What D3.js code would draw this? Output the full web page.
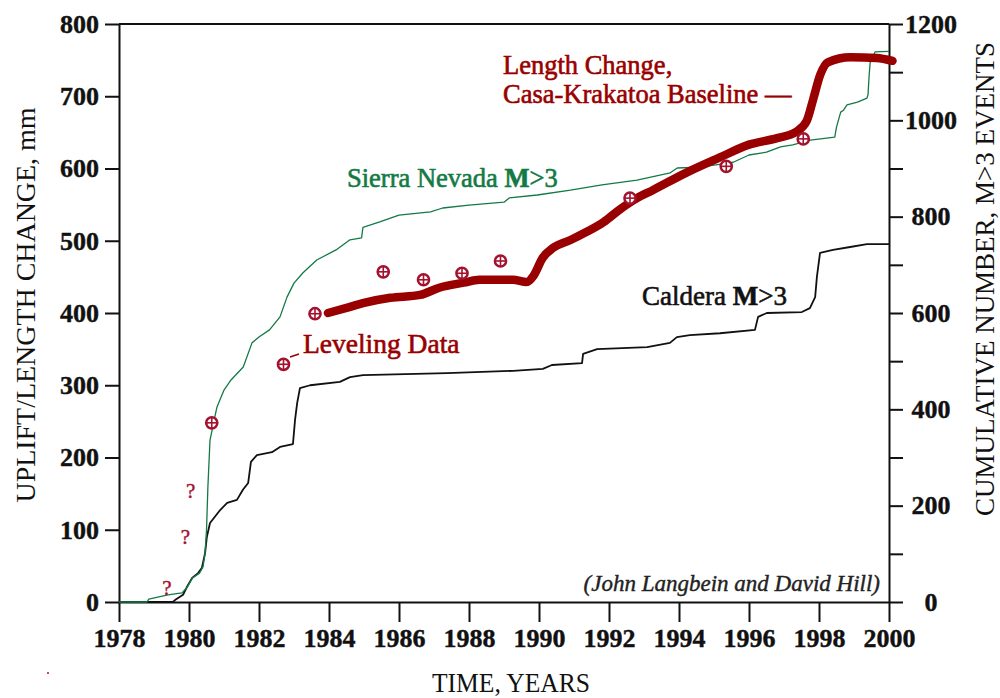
<!DOCTYPE html>
<html>
<head>
<meta charset="utf-8">
<script src="https://cdn.jsdelivr.net/npm/d3@7"></script>
<style>
  html, body { margin: 0; padding: 0; background: #fff; }
  svg { display: block; font-family: "Liberation Serif", serif; }
</style>
</head>
<body>
<svg id="chart" width="1000" height="698"></svg>
<script>
// ---------------- DATA ----------------
const xTicks = [1978, 1980, 1982, 1984, 1986, 1988, 1990, 1992, 1994, 1996, 1998, 2000];
const leftTicks = [0, 100, 200, 300, 400, 500, 600, 700, 800];
const rightTicks = [0, 100, 200, 300, 400, 500, 600, 700, 800, 900, 1000, 1100, 1200];

// Sierra Nevada M>3 cumulative count [year, count]
const sierraNevada = [
  [1978.0,0],[1978.8,0],[1978.85,6],[1979.4,15],[1979.8,19],[1979.95,31],[1980.1,50],
  [1980.3,60],[1980.4,73],[1980.46,102],[1980.5,149],[1980.54,239],[1980.6,336],
  [1980.66,357],[1980.7,372],[1980.8,405],[1981.0,440],[1981.2,461],[1981.55,488],
  [1981.8,538],[1982.0,550],[1982.3,565],[1982.6,592],[1982.8,633],[1983.0,662],
  [1983.25,683],[1983.65,710],[1984.2,731],[1984.6,752],[1984.93,756],[1984.97,778],
  [1985.45,789],[1986.0,803],[1986.9,810],[1987.25,818],[1988.0,824],[1989.0,830],
  [1989.15,839],[1989.95,845],[1990.9,855],[1991.8,866],[1992.8,876],[1993.75,891],
  [1993.95,901],[1994.6,903],[1995.0,907],[1995.4,911],[1995.55,913],[1996.0,928],
  [1996.5,934],[1996.9,945],[1997.25,949],[1997.75,959],[1998.45,965],[1998.5,986],
  [1998.62,1017],[1998.7,1021],[1998.8,1032],[1999.1,1038],[1999.37,1046],[1999.4,1053],
  [1999.43,1090],[1999.46,1119],[1999.6,1142],[2000.0,1143]
];

// Caldera M>3 cumulative count [year, count]
const caldera = [
  [1978.0,0],[1979.54,0],[1979.6,4],[1979.83,15],[1979.94,31],[1980.09,50],[1980.26,60],
  [1980.37,71],[1980.46,102],[1980.51,135],[1980.6,164],[1980.89,191],[1981.09,206],
  [1981.37,212],[1981.54,233],[1981.69,247],[1981.77,291],[1981.94,305],[1982.37,311],
  [1982.6,322],[1982.97,328],[1983.03,378],[1983.09,413],[1983.17,444],[1983.46,450],
  [1984.31,457],[1984.6,467],[1984.97,471],[1987.37,475],[1989.26,480],[1990.11,484],
  [1990.37,492],[1991.23,496],[1991.26,515],[1991.66,525],[1993.09,529],[1993.74,538],
  [1993.94,550],[1994.31,554],[1995.17,558],[1996.17,565],[1996.26,592],[1996.51,600],
  [1997.51,602],[1997.74,610],[1997.89,633],[1997.94,675],[1998.03,725],[1998.4,731],
  [1998.89,737],[1999.37,743],[2000.0,743]
];

// Length change, Casa-Krakatoa baseline [year, mm]
const lengthChange = [
  [1983.97,400],[1984.5,407],[1985.0,414],[1985.75,421],[1986.6,425],[1987.15,435],
  [1987.85,442],[1988.3,446],[1989.25,446],[1989.65,443],[1989.85,452],[1990.1,476],
  [1990.4,490],[1990.9,501],[1991.35,512],[1991.85,526],[1992.3,543],[1992.8,559],
  [1993.25,570],[1994.2,594],[1995.15,615],[1996.0,633],[1996.8,642],[1997.35,651],
  [1997.65,666],[1997.83,695],[1998.03,729],[1998.25,747],[1998.9,754],[1999.65,753],
  [2000.1,749]
];

// Leveling data [year, mm]
const leveling = [
  [1980.65,248],[1982.7,329],[1983.6,399],[1985.55,457],[1986.7,446],[1987.8,455],
  [1988.9,472],[1992.6,559],[1995.35,603],[1997.55,641]
];

// Uncertain early uplift "?" marks [year, mm]
const questionMarks = [[1979.37,20],[1979.9,90],[1980.05,153]];

// ---------------- CHART ----------------
const SERIF = '"Liberation Serif", "Times New Roman", serif';
const svg = d3.select("#chart");
const x = d3.scaleLinear().domain([1978, 2000]).range([119, 889]);
const yL = d3.scaleLinear().domain([0, 800]).range([602, 24]);
const yR = d3.scaleLinear().domain([0, 1200]).range([602, 24]);

const red = "#990000";
const marker = "#a3122e";
const green = "#137a45";

function txt(sel, size, weight, style) {
  return sel.style("font-family", SERIF).style("font-size", size + "px")
    .style("font-weight", weight || "normal").style("font-style", style || "normal");
}
function thicken(sel, color, w) {
  return sel.attr("stroke", color).attr("stroke-width", w).attr("paint-order", "stroke");
}

// top frame line
svg.append("line").attr("x1", x(1978)).attr("x2", x(2000)).attr("y1", yL(800)).attr("y2", yL(800))
  .attr("stroke", "#111").attr("stroke-width", 2);

// Left axis
const gL = svg.append("g").attr("transform", `translate(${x(1978)},0)`)
  .call(d3.axisLeft(yL).tickValues(leftTicks).tickSize(14).tickSizeOuter(0).tickPadding(6).tickFormat(d3.format("d")));
// Right axis
const gR = svg.append("g").attr("transform", `translate(${x(2000)},0)`)
  .call(d3.axisRight(yR).tickValues(rightTicks).tickSize(14).tickSizeOuter(0).tickPadding(28)
    .tickFormat(d => d % 200 === 0 ? d : ""));
gR.selectAll(".tick text").attr("text-anchor", "middle").attr("x", 42);
// Bottom axis
const gB = svg.append("g").attr("transform", `translate(0,${yL(0)})`)
  .call(d3.axisBottom(x).tickValues(xTicks).tickSize(20).tickSizeOuter(0).tickPadding(7).tickFormat(d3.format("d")));

[gL, gR, gB].forEach(g => {
  g.attr("font-family", null).attr("font-size", null);
  g.selectAll("path.domain").attr("stroke", "#111").attr("stroke-width", 2);
  g.selectAll(".tick line").attr("stroke", "#111").attr("stroke-width", 2);
  thicken(txt(g.selectAll(".tick text"), 26, "bold").attr("fill", "#111"), "#111", 0.4);
});

// Series lines
const lineR = d3.line().x(d => x(d[0])).y(d => yR(d[1]));
const lineL = d3.line().x(d => x(d[0])).y(d => yL(d[1])).curve(d3.curveMonotoneX);

svg.append("path").datum(caldera).attr("d", lineR)
  .attr("fill", "none").attr("stroke", "#111").attr("stroke-width", 1.8).attr("stroke-linejoin", "round");
svg.append("path").datum(sierraNevada).attr("d", lineR)
  .attr("fill", "none").attr("stroke", green).attr("stroke-width", 1.3).attr("stroke-linejoin", "round");
svg.append("path").datum(lengthChange).attr("d", lineL)
  .attr("fill", "none").attr("stroke", red).attr("stroke-width", 8.5)
  .attr("stroke-linecap", "round").attr("stroke-linejoin", "round");

// Leveling markers
const mk = svg.append("g").selectAll("g").data(leveling).join("g")
  .attr("transform", d => `translate(${x(d[0])},${yL(d[1])})`);
mk.append("circle").attr("r", 5.6).attr("fill", "#fff").attr("stroke", marker).attr("stroke-width", 2.5);
mk.append("line").attr("x1", -6).attr("x2", 6).attr("stroke", marker).attr("stroke-width", 1.6);
mk.append("line").attr("y1", -6).attr("y2", 6).attr("stroke", marker).attr("stroke-width", 1.6);

// question marks
thicken(txt(svg.append("g").selectAll("text").data(questionMarks).join("text")
  .attr("x", d => x(d[0])).attr("y", d => yL(d[1]) + 7)
  .attr("text-anchor", "middle").attr("fill", marker), 21), marker, 0.4).text("?");

// Annotations
const t1 = thicken(txt(svg.append("text").attr("x", 347).attr("y", 187).attr("fill", green), 26.5), green, 0.6);
t1.append("tspan").text("Sierra Nevada ");
t1.append("tspan").style("font-weight", "bold").text("M");
t1.append("tspan").text(">3");

const t2 = thicken(txt(svg.append("text").attr("x", 642).attr("y", 305).attr("fill", "#111"), 27), "#111", 0.6);
t2.append("tspan").text("Caldera ");
t2.append("tspan").style("font-weight", "bold").text("M");
t2.append("tspan").text(">3");

const t3 = thicken(txt(svg.append("text").attr("fill", red), 26.5), red, 0.6);
t3.append("tspan").attr("x", 503).attr("y", 74).text("Length Change,");
t3.append("tspan").attr("x", 503).attr("y", 103).text("Casa-Krakatoa Baseline \u2014");

thicken(txt(svg.append("text").attr("x", 303).attr("y", 353).attr("fill", red), 27.5), red, 0.6).text("Leveling Data");
svg.append("line").attr("x1", 290).attr("y1", 357).attr("x2", 299).attr("y2", 354)
  .attr("stroke", red).attr("stroke-width", 1.5);

thicken(txt(svg.append("text").attr("x", 880).attr("y", 591).attr("text-anchor", "end").attr("fill", "#222"), 23, "normal", "italic"), "#222", 0.4)
  .text("(John Langbein and David Hill)");

// Axis titles
txt(svg.append("text").attr("transform", "translate(35,305) rotate(-90)").attr("text-anchor", "middle")
  .attr("fill", "#111"), 27)
  .attr("textLength", 395).attr("lengthAdjust", "spacingAndGlyphs")
  .text("UPLIFT/LENGTH CHANGE, mm");
txt(svg.append("text").attr("transform", "translate(994,279) rotate(-90)").attr("text-anchor", "middle")
  .attr("fill", "#111"), 27)
  .attr("textLength", 474).attr("lengthAdjust", "spacingAndGlyphs")
  .text("CUMULATIVE NUMBER, M>3 EVENTS");
txt(svg.append("text").attr("x", 511).attr("y", 692).attr("text-anchor", "middle")
  .attr("fill", "#111"), 28)
  .attr("textLength", 158).attr("lengthAdjust", "spacingAndGlyphs")
  .text("TIME, YEARS");

// tiny stray red dot in the original
svg.append("circle").attr("cx", 48).attr("cy", 673).attr("r", 0.9).attr("fill", red);
</script>
</body>
</html>
